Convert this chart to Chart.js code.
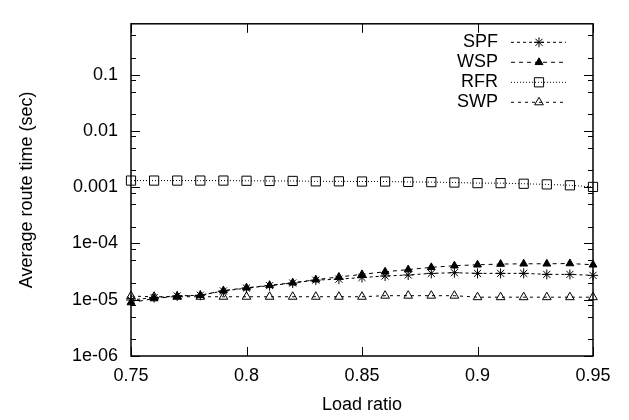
<!DOCTYPE html>
<html>
<head>
<meta charset="utf-8">
<script src="https://cdn.jsdelivr.net/npm/chart.js@4/dist/chart.umd.min.js"></script>
<style>
  html, body { margin: 0; padding: 0; background: #fff; }
</style>
</head>
<body>
<canvas id="chart" width="629" height="420"></canvas>
<script>
// Data
const loadRatio = [0.75, 0.76, 0.77, 0.78, 0.79, 0.80, 0.81, 0.82, 0.83, 0.84, 0.85,
                   0.86, 0.87, 0.88, 0.89, 0.90, 0.91, 0.92, 0.93, 0.94, 0.95];
const spf = [9.9e-6, 1.09e-5, 1.17e-5, 1.2e-5, 1.43e-5, 1.61e-5, 1.78e-5, 1.98e-5, 2.23e-5, 2.32e-5, 2.48e-5,
             2.64e-5, 2.75e-5, 2.94e-5, 3.02e-5, 2.94e-5, 2.94e-5, 2.94e-5, 2.82e-5, 2.82e-5, 2.71e-5];
const wsp = [8.9e-6, 1.05e-5, 1.15e-5, 1.2e-5, 1.45e-5, 1.63e-5, 1.8e-5, 2.0e-5, 2.27e-5, 2.54e-5, 2.82e-5,
             3.14e-5, 3.43e-5, 3.76e-5, 4.02e-5, 4.18e-5, 4.3e-5, 4.35e-5, 4.35e-5, 4.4e-5, 4.18e-5];
const rfr = [0.00131, 0.00131, 0.00131, 0.00131, 0.00131, 0.0013, 0.00129, 0.00129, 0.00127, 0.00127, 0.00126,
             0.00126, 0.00124, 0.00123, 0.00121, 0.00118, 0.00118, 0.00115, 0.00112, 0.00108, 0.00101];
const swp = [1.16e-5, 1.13e-5, 1.13e-5, 1.13e-5, 1.13e-5, 1.13e-5, 1.13e-5, 1.13e-5, 1.13e-5, 1.13e-5, 1.13e-5,
             1.18e-5, 1.18e-5, 1.18e-5, 1.18e-5, 1.11e-5, 1.11e-5, 1.11e-5, 1.11e-5, 1.11e-5, 1.11e-5];

const seriesNames = ['SPF', 'WSP', 'RFR', 'SWP'];
const xTicks = [0.75, 0.8, 0.85, 0.9, 0.95];
const xTickLabels = ['0.75', '0.8', '0.85', '0.9', '0.95'];
const yTicks = [1e-6, 1e-5, 1e-4, 1e-3, 1e-2, 1e-1];
const yTickLabels = ['1e-06', '1e-05', '1e-04', '0.001', '0.01', '0.1'];
const yMinorTicks = [2e-6, 5e-6, 8e-6, 2e-5, 5e-5, 8e-5, 2e-4, 5e-4, 8e-4,
                     2e-3, 5e-3, 8e-3, 2e-2, 5e-2, 8e-2, 0.2, 0.5];

const FONT = { family: "'Liberation Sans', Arial, Helvetica, sans-serif", size: 18 };

function points(values) {
    return loadRatio.map((x, i) => ({ x: x, y: values[i] }));
}

// gnuplot-like frame with inward ticks on all four sides
const frameTicks = {
    id: 'frameTicks',
    beforeDatasetsDraw(chart) {
        const { ctx, chartArea: a, scales: { x, y } } = chart;
        ctx.save();
        ctx.strokeStyle = '#000';
        ctx.lineWidth = 1;
        ctx.beginPath();
        xTicks.forEach(v => {
            const px = Math.round(x.getPixelForValue(v)) + 0.5;
            ctx.moveTo(px, a.bottom); ctx.lineTo(px, a.bottom - 9);
            ctx.moveTo(px, a.top); ctx.lineTo(px, a.top + 9);
        });
        const tick = (v, len) => {
            const py = Math.round(y.getPixelForValue(v)) + 0.5;
            ctx.moveTo(a.left, py); ctx.lineTo(a.left + len, py);
            ctx.moveTo(a.right, py); ctx.lineTo(a.right - len, py);
        };
        yTicks.forEach(v => tick(v, 9));
        yMinorTicks.forEach(v => tick(v, 5));
        ctx.stroke();
        ctx.lineWidth = 1.5;
        ctx.strokeRect(a.left, a.top, a.right - a.left, a.bottom - a.top);
        ctx.restore();
    }
};

// key in the top right corner: label, then line sample with marker
const keyBox = {
    id: 'keyBox',
    afterDraw(chart) {
        const { ctx, chartArea: a } = chart;
        chart.data.datasets.forEach((ds, i) => {
            const rowY = a.top + 18 + i * 20;
            ctx.save();
            ctx.font = FONT.size + 'px ' + FONT.family;
            ctx.fillStyle = '#000';
            ctx.textAlign = 'right';
            ctx.textBaseline = 'middle';
            ctx.fillText(ds.label, a.right - 95, rowY);
            ctx.strokeStyle = '#000';
            ctx.lineWidth = 1;
            ctx.setLineDash(ds.borderDash);
            ctx.beginPath();
            ctx.moveTo(a.right - 82, rowY + 0.5);
            ctx.lineTo(a.right - 27, rowY + 0.5);
            ctx.stroke();
            ctx.setLineDash([]);
            ctx.fillStyle = ds.pointBackgroundColor;
            Chart.helpers.drawPoint(ctx, {
                pointStyle: ds.pointStyle, radius: ds.pointRadius, rotation: 0, borderWidth: 1
            }, a.right - 54, rowY + 0.5);
            ctx.restore();
        });
    }
};

const styles = [
    { dash: [3, 3], point: 'star', radius: 5, fill: 'rgba(0,0,0,0)' },
    { dash: [4, 4], point: 'triangle', radius: 4.5, fill: '#000' },
    { dash: [1, 2], point: 'rect', radius: 6.5, fill: 'rgba(0,0,0,0)' },
    { dash: [3, 4], point: 'triangle', radius: 5, fill: 'rgba(0,0,0,0)' }
];

const series = [spf, wsp, rfr, swp];

new Chart(document.getElementById('chart'), {
    type: 'line',
    data: {
        datasets: series.map((vals, i) => ({
            label: seriesNames[i],
            data: points(vals),
            borderColor: '#000',
            borderWidth: 1,
            borderDash: styles[i].dash,
            pointStyle: styles[i].point,
            pointRadius: styles[i].radius,
            pointBorderColor: '#000',
            pointBorderWidth: 1,
            pointBackgroundColor: styles[i].fill,
            tension: 0,
            fill: false,
            clip: false
        }))
    },
    options: {
        responsive: false,
        animation: false,
        devicePixelRatio: 1,
        layout: { padding: { top: 9, right: 36, left: 0, bottom: 0 } },
        plugins: {
            legend: { display: false },
            tooltip: { enabled: false }
        },
        scales: {
            x: {
                type: 'linear',
                min: 0.75,
                max: 0.95,
                afterBuildTicks: s => { s.ticks = xTicks.map(v => ({ value: v })); },
                afterFit: s => { s.height = 64; },
                ticks: {
                    color: '#000',
                    font: FONT,
                    padding: 9,
                    maxRotation: 0,
                    autoSkip: false,
                    callback: v => xTickLabels[xTicks.indexOf(v)]
                },
                grid: { display: false, drawTicks: false },
                border: { display: false },
                title: {
                    display: true,
                    text: 'Load ratio',
                    color: '#000',
                    font: FONT,
                    padding: { top: 0, bottom: 4 }
                }
            },
            y: {
                type: 'logarithmic',
                min: 1e-6,
                max: 0.8,
                afterBuildTicks: s => { s.ticks = yTicks.map(v => ({ value: v })); },
                afterFit: s => { s.width = 131; },
                ticks: {
                    color: '#000',
                    font: FONT,
                    padding: 13,
                    autoSkip: false,
                    callback: v => yTickLabels[yTicks.indexOf(v)]
                },
                grid: { display: false, drawTicks: false },
                border: { display: false },
                title: {
                    display: true,
                    text: 'Average route time (sec)',
                    color: '#000',
                    font: FONT,
                    padding: { top: 16, bottom: 0 }
                }
            }
        }
    },
    plugins: [frameTicks, keyBox]
});
</script>
</body>
</html>
